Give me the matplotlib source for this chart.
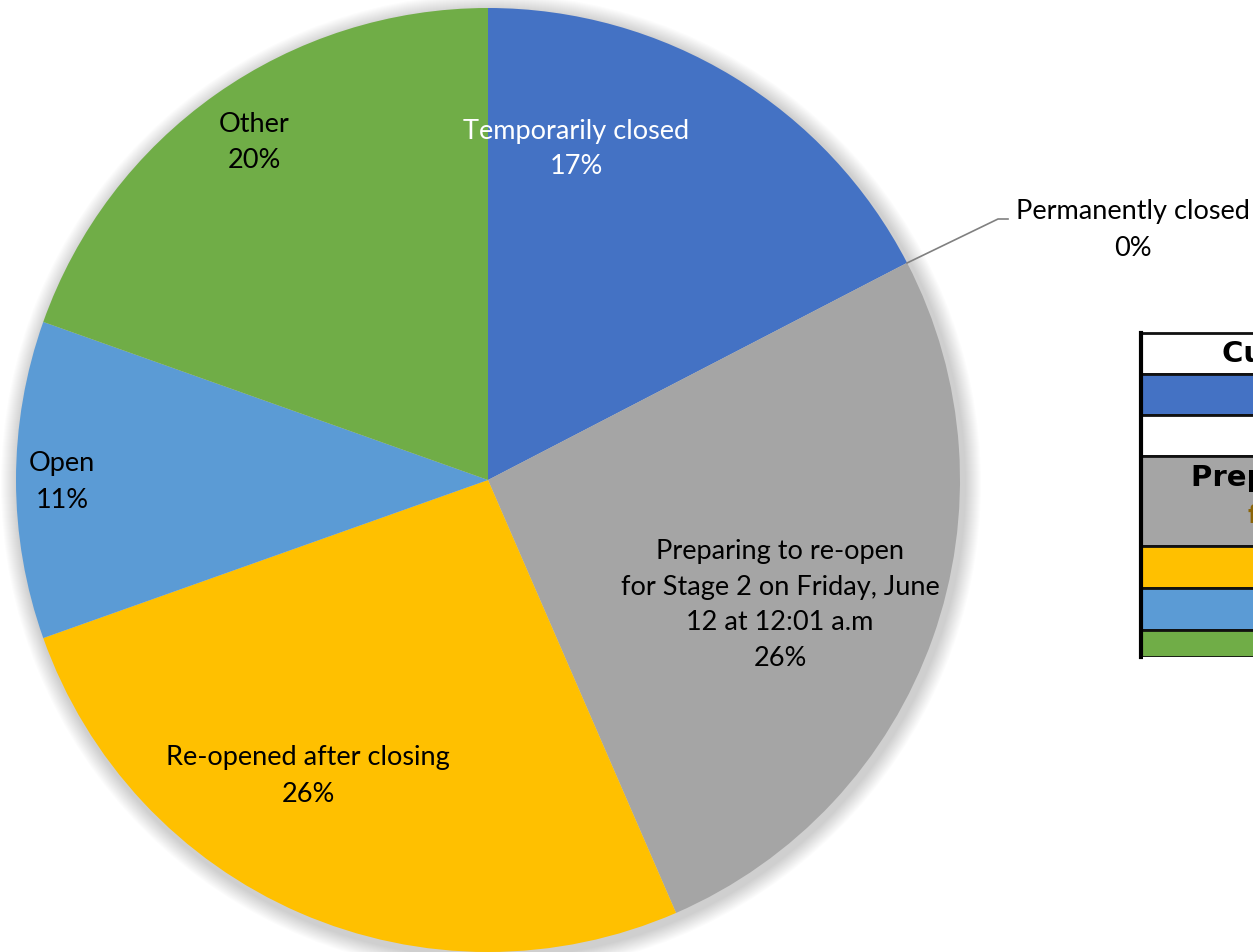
import matplotlib.pyplot as plt
from matplotlib.patches import Circle, Rectangle

plt.rcParams['font.family'] = ['Lato', 'DejaVu Sans']

# Datos del grafico (conteo de respuestas)
estados = ["Temporarily closed", "Permanently closed",
           "Preparing to re-open\nfor Stage 2 on Friday, June\n12 at 12:01 a.m",
           "Re-opened after closing", "Open", "Other"]
conteos = [8, 0, 12, 12, 5, 9]
colores = ["#4472C4", "#FFFFFF", "#A5A5A5", "#FFC000", "#5B9BD5", "#70AD47"]

# Tabla de la derecha (cortada por el borde)
filas_tabla = ["Current Status", "", "", "Preparing to re-open", "", "", ""]
alto_filas = [41, 41, 41, 90, 42, 42, 27]
color_filas = ["#FFFFFF", "#4472C4", "#FFFFFF", "#A5A5A5", "#FFC000", "#5B9BD5", "#70AD47"]

W, H = 1253, 952
fig = plt.figure(figsize=(W / 100, H / 100), dpi=100)
ax = fig.add_axes([0, 0, 1, 1])

cx, cy, r = 488, H - 480, 472

# sombra suave
for i in range(16):
    ax.add_patch(Circle((cx + 3, cy - 4), r + 18 - i, color="black", alpha=0.011, lw=0, zorder=0))

total = sum(conteos)
wedges, _ = ax.pie(conteos, colors=colores, startangle=90, counterclock=False,
                   center=(cx, cy), radius=r, frame=True,
                   wedgeprops=dict(linewidth=0))
ax.set_xlim(0, W)
ax.set_ylim(0, H)
ax.axis("off")

pct = [round(100 * c / total) for c in conteos]

# etiquetas (posicion en pixeles de la imagen)
etiquetas = [
    (576, 149, 0, "white"),
    (1133, 230, 1, "black"),
    (780, 605, 2, "black"),
    (308, 776, 3, "black"),
    (62, 482, 4, "black"),
    (254, 142, 5, "black"),
]
for x, y, i, col in etiquetas:
    ax.text(x, H - y, f"{estados[i]}\n{pct[i]}%", ha="center", va="center",
            fontsize=19.5, color=col, linespacing=1.55, zorder=5)

# linea guia de "Permanently closed"
ax.plot([907, 998, 1008], [H - 263, H - 219, H - 219], color="#808080", lw=1.2, zorder=4)

# tabla
x0, ancho = 1141, 440
y = 333
for texto, alto, col in zip(filas_tabla, alto_filas, color_filas):
    ax.add_patch(Rectangle((x0, H - y - alto), ancho, alto, facecolor=col,
                           edgecolor="#111111", lw=2, zorder=3))
    if texto == "Current Status":
        ax.text(1343, H - y - alto / 2, texto, ha="center", va="center",
                fontsize=21, fontweight="bold", family="DejaVu Sans", zorder=4)
    elif texto:
        ax.text(1363, H - y - 22, texto, ha="center", va="center",
                fontsize=21, fontweight="bold", family="DejaVu Sans", zorder=4)
        ax.text(1248, H - y - 60, "for Stage 2", ha="left", va="center",
                fontsize=18, fontweight="bold", family="DejaVu Sans", color="#8B6508", zorder=4)
    y += alto
# borde izquierdo grueso y sin borde inferior
ax.plot([x0, x0], [H - 333, H - 657], color="black", lw=3, zorder=4)
ax.add_patch(Rectangle((x0 + 1.5, H - 662), ancho, 5, facecolor="white", lw=0, zorder=4))

fig.savefig("out.png", dpi=100)
